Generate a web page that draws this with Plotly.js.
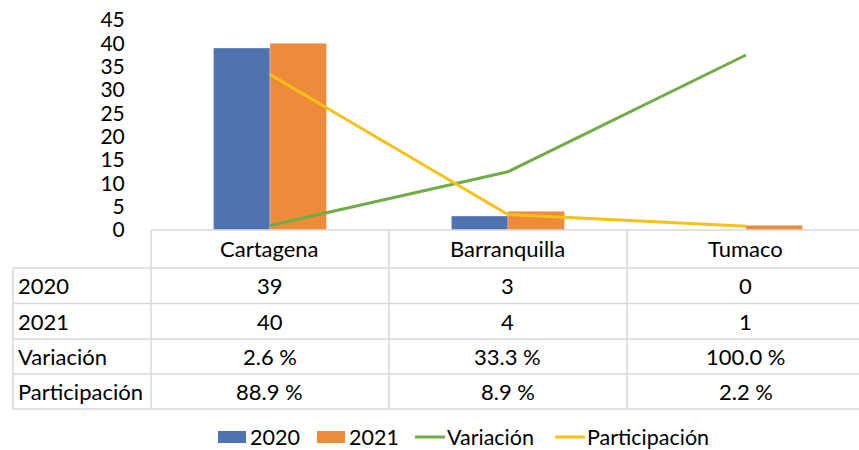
<!DOCTYPE html>
<html>
<head>
<meta charset="utf-8">
<script src="https://cdn.plot.ly/plotly-3.0.1.min.js"></script>
<style>
  html, body { margin: 0; padding: 0; background: #fff; }
  #chart { width: 859px; height: 450px; }
</style>
</head>
<body>
<div id="chart"></div>
<script>
// ---- data ----
const categories = ["Cartagena", "Barranquilla", "Tumaco"];
const values2020 = [39, 3, 0];
const values2021 = [40, 4, 1];
const variacion = [2.6, 33.3, 100.0];      // percent
const participacion = [88.9, 8.9, 2.2];    // percent
const rowLabels = ["2020", "2021", "Variación", "Participación"];
const yTicks = [0, 5, 10, 15, 20, 25, 30, 35, 40, 45];

// ---- style ----
const FONT = "Lato, 'Open Sans', sans-serif";
const FS_TICK = 21;
const FS_TABLE = 22;
const FS_LEG = 21.5;
const C_BLUE = "#4F72B1";
const C_ORANGE = "#ED8B3A";
const C_GREEN = "#71AD47";
const C_YELLOW = "#F8C118";
const GRID = "#D9D9D9";

// plot area in pixels
const L = 151, R = 859, T = 20, B = 230, W = 859, H = 450;
const px = x => (x - L) / (R - L);
const py = y => (B - y) / (B - T);

const fmtPct = v => v.toFixed(1) + " %";

const traces = [
  { type: "bar", name: "2020", x: categories, y: values2020,
    marker: { color: C_BLUE, line: { color: "rgba(255,255,255,0.6)", width: 0.5 } } },
  { type: "bar", name: "2021", x: categories, y: values2021,
    marker: { color: C_ORANGE, line: { color: "rgba(255,255,255,0.6)", width: 0.5 } } },
  { type: "scatter", mode: "lines", name: "Variación", x: categories,
    y: variacion.map(v => v / 100), yaxis: "y2",
    line: { color: C_GREEN, width: 3 }, cliponaxis: false },
  { type: "scatter", mode: "lines", name: "Participación", x: categories,
    y: participacion.map(v => v / 100), yaxis: "y2",
    line: { color: C_YELLOW, width: 3 }, cliponaxis: false }
];

// ---- data table ----
const shapes = [];
const annotations = [];
const hline = (y, x0, x1) => shapes.push({ type: "line", xref: "paper", yref: "paper",
  x0: px(x0), x1: px(x1), y0: py(y), y1: py(y), line: { color: GRID, width: 1.5 } });
const vline = (x, y0, y1) => shapes.push({ type: "line", xref: "paper", yref: "paper",
  x0: px(x), x1: px(x), y0: py(y0), y1: py(y1), line: { color: GRID, width: 1.5 } });

const rowY = [230, 268, 303.5, 339, 374, 409];
hline(rowY[0], L, R);
for (let i = 1; i < rowY.length; i++) hline(rowY[i], 13, R);
vline(13, rowY[1], rowY[5]);
vline(151, rowY[0], rowY[5]);
vline(389, rowY[0], rowY[5]);
vline(627, rowY[0], rowY[5]);

const txt = (x, xref, y, text, anchor, size) => annotations.push({
  x: x, xref: xref, y: py(y), yref: "paper", text: text, showarrow: false,
  xanchor: anchor, yanchor: "middle", font: { family: FONT, size: size, color: "#000" } });

const rowData = [
  values2020.map(String),
  values2021.map(String),
  variacion.map(fmtPct),
  participacion.map(fmtPct)
];
categories.forEach(c => txt(c, "x", (rowY[0] + rowY[1]) / 2, c, "center", FS_TABLE));
rowLabels.forEach((lab, i) => {
  const yc = (rowY[i + 1] + rowY[i + 2]) / 2;
  txt(px(16), "paper", yc, lab, "left", FS_TABLE);
  rowData[i].forEach((v, j) => txt(categories[j], "x", yc, v, "center", FS_TABLE));
});

// ---- manual legend ----
const legY = 437;
const legendItems = [
  { kind: "box", color: C_BLUE, x0: 218, x1: 246, text: traces[0].name, tx: 248 },
  { kind: "box", color: C_ORANGE, x0: 317, x1: 345, text: traces[1].name, tx: 347 },
  { kind: "line", color: C_GREEN, x0: 415, x1: 445, text: traces[2].name, tx: 445 },
  { kind: "line", color: C_YELLOW, x0: 555, x1: 585, text: traces[3].name, tx: 585 }
];
legendItems.forEach(it => {
  if (it.kind === "box") {
    shapes.push({ type: "rect", xref: "paper", yref: "paper", x0: px(it.x0), x1: px(it.x1),
      y0: py(legY - 6), y1: py(legY + 6), fillcolor: it.color, line: { width: 0 } });
  } else {
    shapes.push({ type: "line", xref: "paper", yref: "paper", x0: px(it.x0), x1: px(it.x1),
      y0: py(legY), y1: py(legY), line: { color: it.color, width: 3 } });
  }
  txt(px(it.tx), "paper", legY, it.text, "left", FS_LEG);
});

const layout = {
  width: W, height: H,
  margin: { l: L, r: W - R, t: T, b: H - B, pad: 0 },
  paper_bgcolor: "#fff", plot_bgcolor: "#fff",
  font: { family: FONT, size: FS_TICK, color: "#000" },
  showlegend: false,
  barmode: "group", bargap: 0.525, bargroupgap: 0,
  xaxis: {
    type: "category", range: [-0.5, 2.475], showticklabels: false,
    showgrid: false, zeroline: false, showline: false, ticks: "", fixedrange: true
  },
  yaxis: {
    range: [0, 45], tickvals: yTicks, ticktext: yTicks.map(String),
    showgrid: false, zeroline: false, showline: false,
    ticks: "outside", ticklen: 21, tickcolor: "rgba(0,0,0,0)",
    tickfont: { family: FONT, size: FS_TICK, color: "#000" }
  },
  yaxis2: {
    overlaying: "y", side: "right", range: [0, 1.2], visible: false,
    showgrid: false, zeroline: false
  },
  shapes: shapes,
  annotations: annotations
};

Plotly.newPlot("chart", traces, layout, { displayModeBar: false, staticPlot: true });
</script>
</body>
</html>
